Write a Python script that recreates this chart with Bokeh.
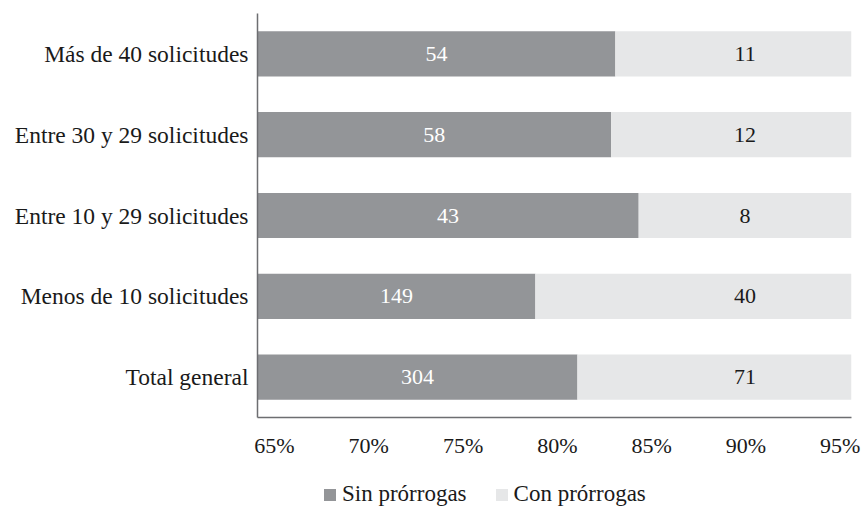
from bokeh.plotting import figure
from bokeh.layouts import column
from bokeh.models import (ColumnDataSource, FactorRange, Range1d, FixedTicker,
                          NumeralTickFormatter, Legend, LegendItem)
from bokeh.core.properties import value
from bokeh.embed import file_html
from bokeh.resources import INLINE

# Number of requests per group, split by whether an extension was granted
categories = ["Más de 40 solicitudes", "Entre 30 y 29 solicitudes",
              "Entre 10 y 29 solicitudes", "Menos de 10 solicitudes",
              "Total general"]
sin_prorrogas = [54, 58, 43, 149, 304]
con_prorrogas = [11, 12, 8, 40, 71]
x_ticks = [0.65, 0.70, 0.75, 0.80, 0.85, 0.90, 0.95]
series_names = ["Sin prórrogas", "Con prórrogas"]

FONT = value("Liberation Serif")
DARK = "#939598"
LIGHT = "#e6e7e8"
AXIS_COLOR = "#6d6e71"
TEXT = "#1a1a1a"
X_START, X_END = 0.641, 0.956

totals = [a + b for a, b in zip(sin_prorrogas, con_prorrogas)]
share_sin = [a / t for a, t in zip(sin_prorrogas, totals)]

source = ColumnDataSource(dict(
    cat=categories,
    sin=sin_prorrogas,
    con=con_prorrogas,
    share=share_sin,
    zero=[0.0] * len(categories),
    one=[1.0] * len(categories),
    sin_x=[(X_START + s) / 2 for s in share_sin],
    con_x=[(max(share_sin) + X_END) / 2] * len(categories),
    sin_txt=[str(v) for v in sin_prorrogas],
    con_txt=[str(v) for v in con_prorrogas],
))

# Main chart: 100% stacked horizontal bars
p = figure(width=865, height=465, output_backend="svg", toolbar_location=None,
           y_range=FactorRange(factors=list(reversed(categories))),
           x_range=Range1d(X_START, X_END),
           min_border_left=257, min_border_right=14, min_border_top=13,
           min_border_bottom=48)
p.outline_line_color = None
p.grid.grid_line_color = None

bar_h = 0.56
p.hbar(y="cat", left="zero", right="share", height=bar_h, source=source,
       fill_color=DARK, line_color=None)
p.hbar(y="cat", left="share", right="one", height=bar_h, source=source,
       fill_color=LIGHT, line_color=None)

p.text(x="sin_x", y="cat", text="sin_txt", source=source, text_align="center",
       text_baseline="middle", text_font=FONT, text_font_size="22px",
       text_color="#ffffff")
p.text(x="con_x", y="cat", text="con_txt", source=source, text_align="center",
       text_baseline="middle", text_font=FONT, text_font_size="22px",
       text_color=TEXT)

xa = p.xaxis[0]
xa.ticker = FixedTicker(ticks=x_ticks)
xa.formatter = NumeralTickFormatter(format="0%")
xa.major_tick_line_color = None
xa.minor_tick_line_color = None
xa.axis_line_color = AXIS_COLOR
xa.axis_line_width = 1.5
xa.major_label_text_font = "Liberation Serif"
xa.major_label_text_font_size = "22px"
xa.major_label_text_color = TEXT
xa.major_label_standoff = 9

ya = p.yaxis[0]
ya.major_tick_line_color = None
ya.minor_tick_line_color = None
ya.axis_line_color = AXIS_COLOR
ya.axis_line_width = 1.5
ya.major_label_text_font = "Liberation Serif"
ya.major_label_text_font_size = "23.5px"
ya.major_label_text_color = TEXT
ya.major_label_standoff = 3

# Legend strip under the chart (frame aligned with the chart's frame).
# The key renderers hold a single NaN row: nothing is drawn, only the swatch.
leg = figure(width=865, height=42, output_backend="svg", toolbar_location=None,
             x_axis_type=None, y_axis_type=None, min_border=0,
             x_range=Range1d(0, 1), y_range=Range1d(0, 1))
leg.outline_line_color = None
leg.grid.grid_line_color = None
nan = float("nan")
key_src = ColumnDataSource(dict(l=[nan], r=[nan], t=[nan], b=[nan]))
k_sin = leg.quad(left="l", right="r", top="t", bottom="b", source=key_src,
                 fill_color=DARK, line_color=None)
k_con = leg.quad(left="l", right="r", top="t", bottom="b", source=key_src,
                 fill_color=LIGHT, line_color=None)
legend = Legend(items=[LegendItem(label=series_names[0], renderers=[k_sin]),
                       LegendItem(label=series_names[1], renderers=[k_con])],
                orientation="horizontal", location=(65, 0),
                margin=0, padding=0, spacing=27, label_standoff=5,
                glyph_width=15, glyph_height=15,
                label_text_font="Liberation Serif", label_text_font_size="23px",
                label_text_color=TEXT,
                border_line_color=None, background_fill_alpha=0)
leg.add_layout(legend, "center")

open("out.html", "w").write(file_html(column(p, leg), INLINE))
